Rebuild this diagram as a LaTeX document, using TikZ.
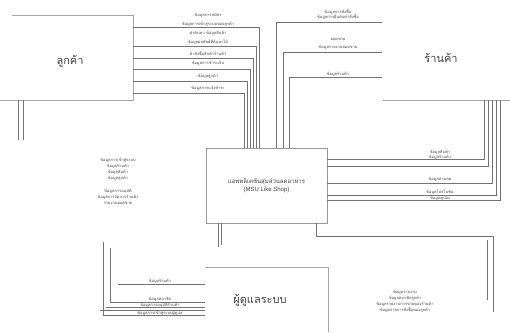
\documentclass[tikz,border=0pt]{standalone}
\usepackage{fontspec}
\setmainfont{Loma}[Script=Thai]
\newfontfamily\latinfont{Liberation Sans}
\begin{document}
\begin{tikzpicture}[x=1pt,y=-1pt,
  flow/.style={draw=black!55, line width=0.55pt},
  edge/.style={draw=black!35, line width=0.8pt},
  lbl/.style={font=\fontsize{4}{5}\selectfont, inner sep=0pt, text=black!75},
  blk/.style={font=\fontsize{4}{6}\selectfont, inner sep=0pt, align=center, text=black!75},
  ent/.style={font=\fontsize{11}{13}\selectfont, inner sep=0pt, text=black!75}]
\useasboundingbox (0,0) rectangle (510,332);

% ---------- entities ----------
\draw[edge] (12,15) -- (133,15) -- (133,100) -- (0,100);
\node[ent] (cust) at (70,61) {ลูกค้า};
\draw[edge] (383,100) -- (510,100);
\node[ent] (shop) at (441,58) {ร้านค้า};
\draw[edge] (205,267) -- (328,267) -- (328,332);
\node[ent] (admin) at (260,300) {ผู้ดูแลระบบ};

\node[draw=black!40, line width=0.8pt, minimum width=121pt, minimum height=75pt,
      inner sep=0pt, align=center, text=black!75, font=\fontsize{6}{8}\selectfont] (sys) at (266.5,185.5)
      {แอพพลิเคชันสุ่มส่วนลดอาหาร\\{\latinfont (MSU Like Shop)}};

% ---------- customer flows ----------
\foreach \i/\yy/\xx in {1/27/259, 2/46/256, 3/58/253, 4/69/250, 5/81/247, 6/93/244}{
  \coordinate (ca\i) at (133,\yy);
  \coordinate (cb\i) at (\xx,148);
  \draw[flow] (ca\i) -| (cb\i);
}
\node[lbl] (l1) at (208,15) {ข้อมูลการสมัคร};
\node[lbl] (l2) at (208,24) {ข้อมูลการเข้าสู่ระบบของลูกค้า};
\node[lbl] (l3) at (208,33) {คำค้นหา ข้อมูลสินค้า};
\node[lbl] (l4) at (208,42) {ข้อมูลผลลัพธ์ที่ค้นหาได้};
\node[lbl] (l5) at (208,53) {คำสั่งซื้อสินค้าร้านค้า};
\node[lbl] (l6) at (208,63) {ข้อมูลการชำระเงิน};
\node[lbl] (l7) at (208,76) {ข้อมูลลูกค้า};
\node[lbl] (l8) at (208,88) {ข้อมูลการแจ้งชำระ};

\coordinate (cd1) at (18,100); \coordinate (cd1e) at (18,140);
\coordinate (cd2) at (23,100); \coordinate (cd2e) at (23,140);
\draw[flow] (cd1) -- (cd1e);
\draw[flow] (cd2) -- (cd2e);

% ---------- shop flows (top) ----------
\foreach \i/\xx/\yy in {1/276/22, 2/283/52, 3/289/77}{
  \coordinate (sa\i) at (\xx,148);
  \coordinate (sb\i) at (382,\yy);
  \draw[flow] (sa\i) |- (sb\i);
}
\node[lbl] (t1) at (338,12) {ข้อมูลการสั่งซื้อ};
\node[lbl] (t2) at (338,17) {ข้อมูลการยืนยันคำสั่งซื้อ};
\node[lbl] (t3) at (338,39) {ยอดขาย};
\node[lbl] (t4) at (338,47) {ข้อมูลรายงานยอดขาย};
\node[lbl] (t5) at (338,74) {ข้อมูลร้านค้า};

% ---------- shop flows (right) ----------
\foreach \i/\yy/\xx in {1/159/484, 2/166/488, 3/183/492, 4/195/496, 5/200/500}{
  \coordinate (ra\i) at (327,\yy);
  \coordinate (rb\i) at (\xx,100);
  \draw[flow] (ra\i) -| (rb\i);
}
\node[lbl] (r1) at (440,152) {ข้อมูลสินค้า};
\node[lbl] (r2) at (440,157) {ข้อมูลร้านค้า};
\node[lbl] (r3) at (440,179) {ข้อมูลส่วนลด};
\node[lbl] (r4) at (440,192) {ข้อมูลโปรโมชัน};
\node[lbl] (r5) at (440,198) {ข้อมูลคูปอง};

% ---------- admin flows ----------
\coordinate (ba1) at (218,223); \coordinate (bb1) at (218,247);
\coordinate (ba2) at (221,223); \coordinate (bb2) at (221,245);
\draw[flow] (ba1) -- (bb1);
\draw[flow] (ba2) -- (bb2);

\coordinate (bc1) at (316,223); \coordinate (bc2) at (493,236); \coordinate (bc3) at (493,312);
\draw[flow] (bc1) |- (bc2) -- (bc3);
\coordinate (bd1) at (487,240); \coordinate (bd2) at (487,300);
\draw[flow] (bd1) -- (bd2);

\node[blk] (bk1) at (405,301) {ข้อมูลรายงาน\\ข้อมูลสมาชิกลูกค้า\\ข้อมูลรายงานการขายของร้านค้า\\ข้อมูลรายการสั่งซื้อของลูกค้า};

\node[blk] (bk2) at (118,169) {ข้อมูลการเข้าสู่ระบบ\\ข้อมูลร้านค้า\\ข้อมูลสินค้า\\ข้อมูลลูกค้า};
\node[blk] (bk3) at (118,197) {ข้อมูลการอนุมัติ\\ข้อมูลการจัดการร้านค้า\\รายงานยอดขาย};

\coordinate (la1) at (103,242); \coordinate (lb1) at (205,315);
\coordinate (la2) at (110,248); \coordinate (lb2) at (205,302);
\draw[flow] (la1) |- (lb1);
\draw[flow] (la2) |- (lb2);
\coordinate (lc1) at (118,284); \coordinate (lc2) at (205,284);
\draw[flow] (lc1) -- (lc2);
\coordinate (ld1) at (106,307); \coordinate (ld2) at (205,307);
\draw[flow] (ld1) -- (ld2);
\coordinate (le1) at (100,310); \coordinate (le2) at (205,310);
\draw[flow] (le1) -- (le2);
\node[lbl] (a1) at (160,281) {ข้อมูลร้านค้า};
\node[lbl] (a2) at (160,299) {ข้อมูลสมาชิก};
\node[lbl] (a3) at (160,305) {ข้อมูลการอนุมัติร้านค้า};
\node[lbl] (a4) at (160,313) {ข้อมูลการเข้าสู่ระบบผู้ดูแล};
\end{tikzpicture}
\end{document}
